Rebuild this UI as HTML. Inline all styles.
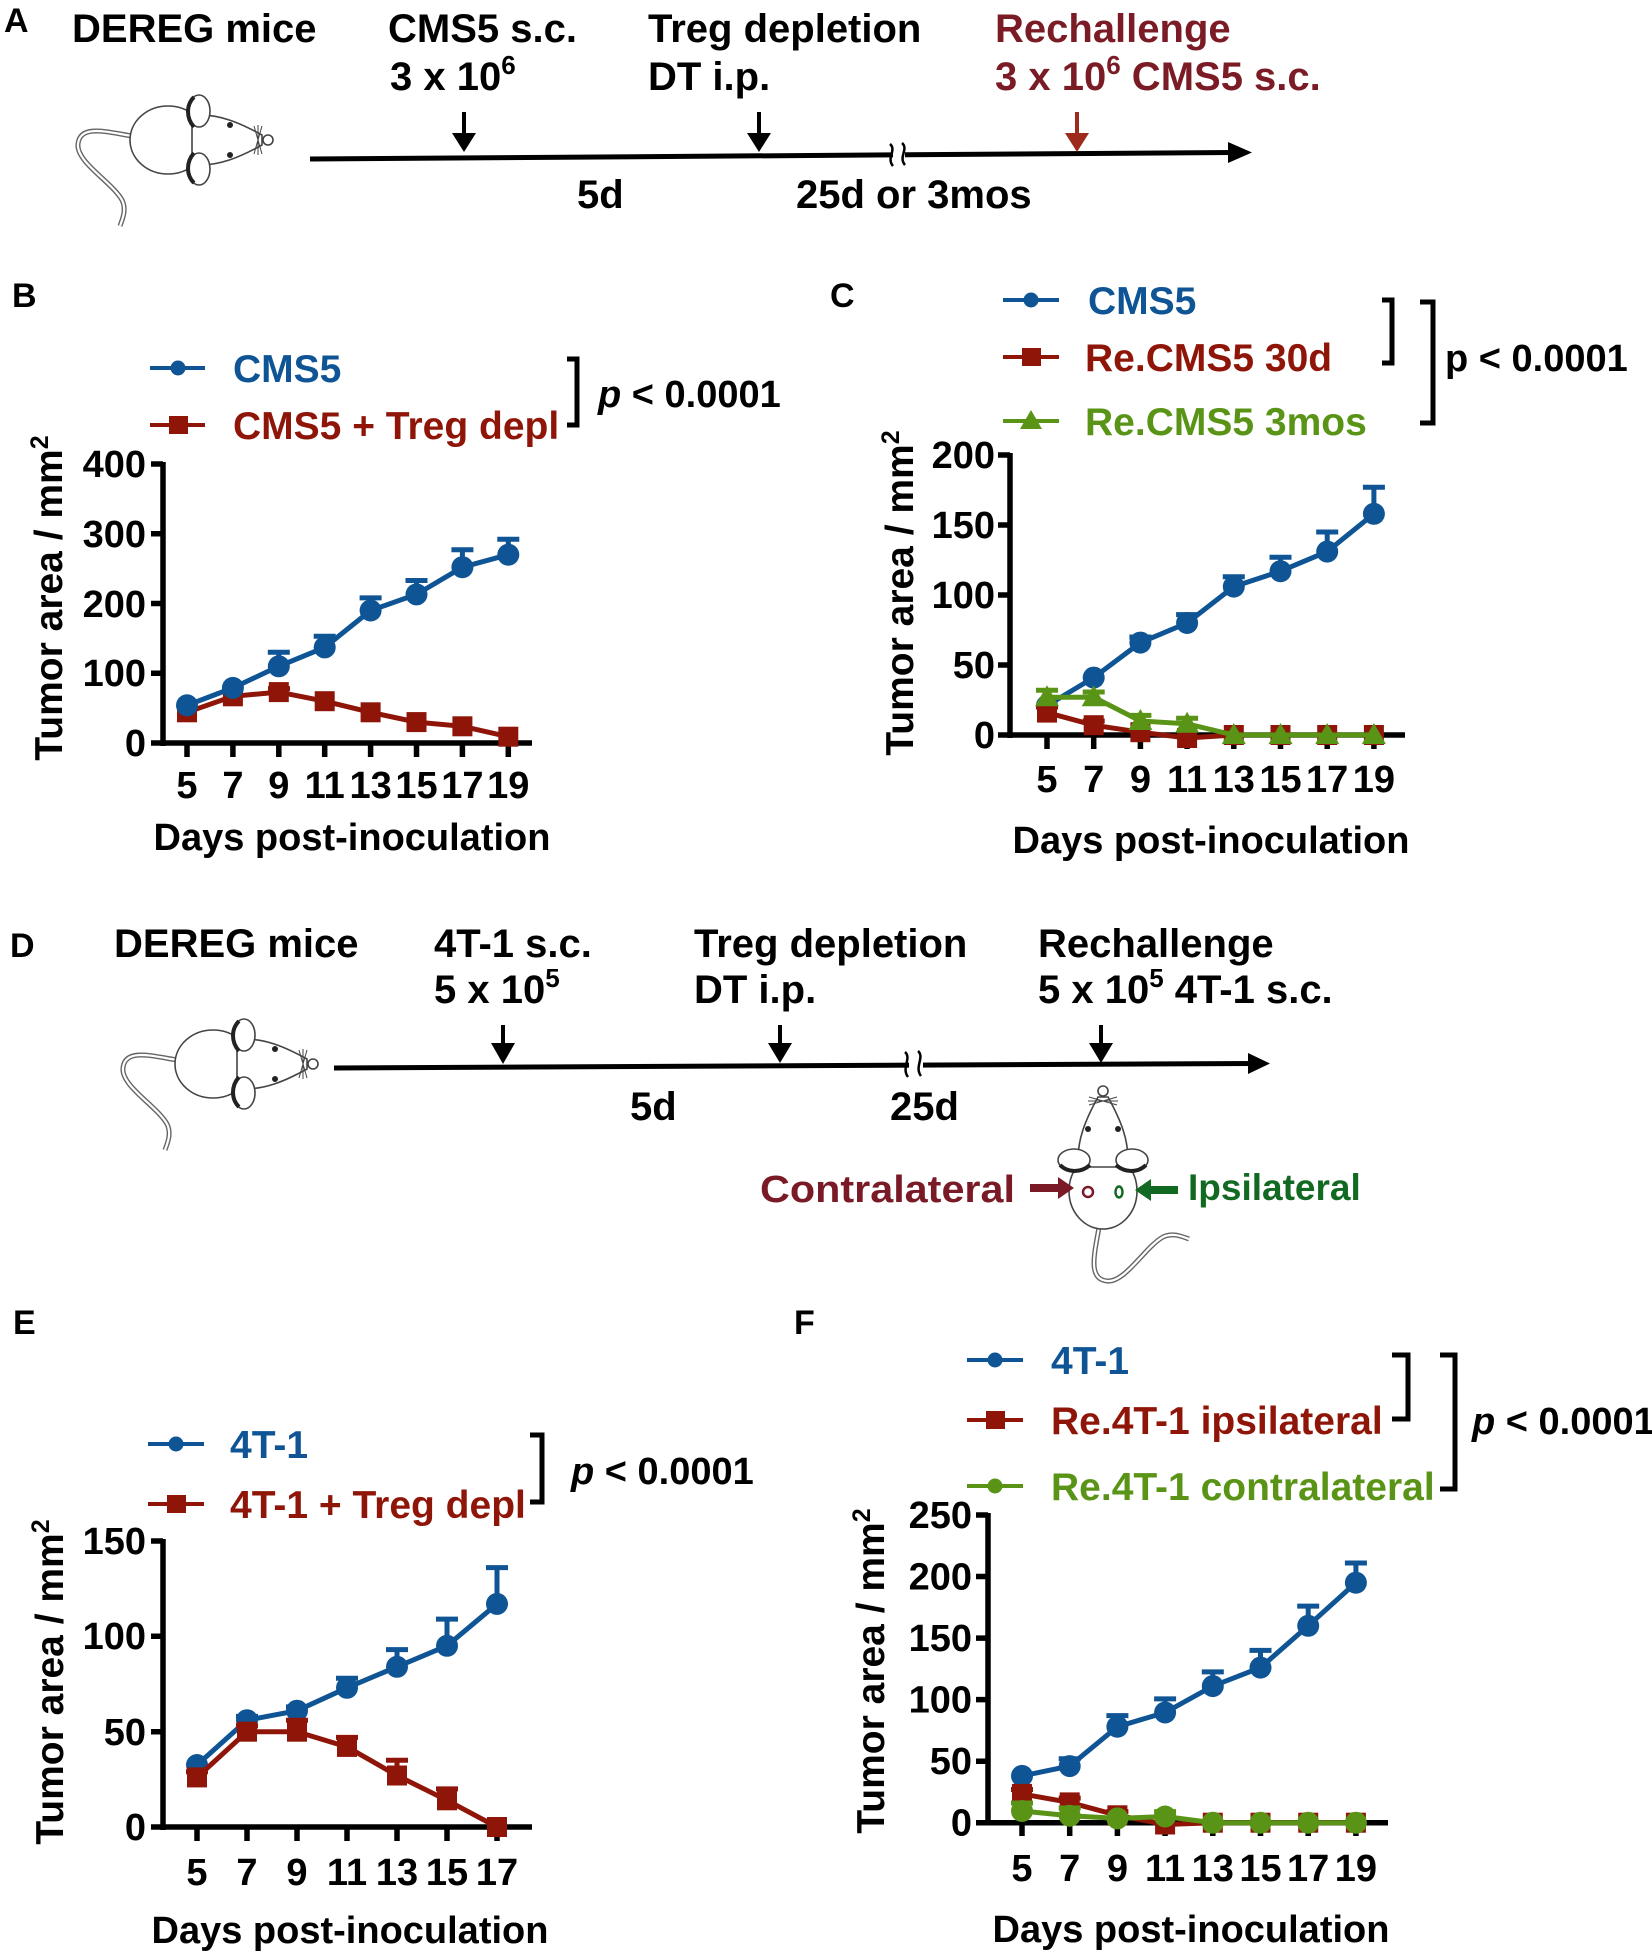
<!DOCTYPE html>
<html>
<head>
<meta charset="utf-8">
<style>
  html, body { margin:0; padding:0; background:#fff; }
  svg { display:block; }
  text { font-family: "Liberation Sans", Arial, sans-serif; font-weight: bold; }
</style>
</head>
<body>
<svg width="1652" height="1953" viewBox="0 0 1652 1953" xmlns="http://www.w3.org/2000/svg">
<rect x="0" y="0" width="1652" height="1953" fill="#fff"/>
<defs>
  <g id="mouse" fill="none" stroke="#444" stroke-width="1.6">
    <path d="M-140,-4 C-165,-8 -192,-16 -194,4 C-196,22 -160,42 -150,60 C-145,70 -150,80 -152,86" stroke="#666" stroke-width="5"/>
    <path d="M-140,-4 C-165,-8 -192,-16 -194,4 C-196,22 -160,42 -150,60 C-145,70 -150,80 -152,86" stroke="#fff" stroke-width="2.2"/>
    <ellipse cx="-104" cy="0" rx="38" ry="34" fill="#fff"/>
    <path d="M-80,-24 C-55,-28 -30,-16 -10,-5 L-10,5 C-30,16 -55,28 -80,24 Z" fill="#fff"/>
    <ellipse cx="-73" cy="-29" rx="11" ry="16" fill="#fff"/>
    <ellipse cx="-73" cy="29" rx="11" ry="16" fill="#fff"/>
    <path d="M-78,-43 C-86,-35 -86,-22 -78,-13" stroke="#222" stroke-width="4"/>
    <path d="M-78,13 C-86,22 -86,35 -78,43" stroke="#222" stroke-width="4"/>
    <circle cx="-42" cy="-15" r="3" fill="#222" stroke="none"/>
    <circle cx="-42" cy="15" r="3" fill="#222" stroke="none"/>
    <circle cx="-4" cy="0" r="5" fill="#fff"/>
    <path d="M-18,-14 L-10,14 M-10,-14 L-18,14 M-14,-15 L-14,15" stroke-width="1"/>
  </g>
</defs>

<!-- ================= PANEL A ================= -->
<text x="4" y="32" font-size="34">A</text>
<text x="72" y="42" font-size="40">DEREG mice</text>
<text x="388" y="42" font-size="40">CMS5 s.c.</text>
<text x="390" y="90" font-size="40">3 x 10<tspan font-size="26" dy="-16">6</tspan></text>
<text x="648" y="42" font-size="40">Treg depletion</text>
<text x="648" y="90" font-size="40">DT i.p.</text>
<text x="995" y="42" font-size="40" fill="#7b1b25">Rechallenge</text>
<text x="995" y="90" font-size="40" fill="#7b1b25">3 x 10<tspan font-size="26" dy="-16">6</tspan><tspan dy="16"> CMS5 s.c.</tspan></text>
<use href="#mouse" transform="translate(272,140)"/>
<line x1="310" y1="159" x2="1232" y2="152.5" stroke="#000" stroke-width="5"/>
<polygon points="1228,142 1252,152.5 1228,163" fill="#000"/>
<rect x="893" y="145" width="12" height="16" fill="#fff"/>
<path d="M890,144 C897,150 886,158 893,166 M902,143 C909,149 898,157 905,165" stroke="#000" stroke-width="2.5" fill="none"/>
<rect x="462" y="112" width="4" height="24" fill="#000"/>
<polygon points="452,133 476,133 464,152" fill="#000"/>
<rect x="757" y="112" width="4" height="24" fill="#000"/>
<polygon points="747,133 771,133 759,152" fill="#000"/>
<rect x="1075" y="112" width="4" height="24" fill="#9c2b1c"/>
<polygon points="1065,133 1089,133 1077,152" fill="#9c2b1c"/>
<text x="577" y="208" font-size="40">5d</text>
<text x="796" y="208" font-size="40">25d or 3mos</text>

<!-- ================= PANEL B ================= -->
<text x="12" y="307" font-size="34">B</text>
<line x1="150" y1="368" x2="205" y2="368" stroke="#0f5494" stroke-width="4"/>
<circle cx="178" cy="368" r="7.5" fill="#0f5494"/>
<text x="233" y="382" font-size="39" fill="#0f5494">CMS5</text>
<line x1="150" y1="425" x2="205" y2="425" stroke="#8e1508" stroke-width="4"/>
<rect x="169" y="416" width="19" height="18" fill="#8e1508"/>
<text x="233" y="439" font-size="39" fill="#8e1508">CMS5 + Treg depl</text>
<path d="M567,359 H577 V425 H567" stroke="#000" stroke-width="5" fill="none"/>
<text x="598" y="407" font-size="38"><tspan font-style="italic">p</tspan> &lt; 0.0001</text>
<g stroke="#000" stroke-width="5.5" fill="none">
  <path d="M163,462 V746 M160.3,743 H532"/>
  <path d="M151,464 H163 M151,533.7 H163 M151,603.5 H163 M151,673.3 H163 M151,743 H163"/>
  <path d="M187,743 V757 M232.9,743 V757 M278.8,743 V757 M324.7,743 V757 M370.6,743 V757 M416.5,743 V757 M462.4,743 V757 M508.3,743 V757"/>
</g>
<g font-size="38" text-anchor="end">
  <text x="146" y="477">400</text>
  <text x="146" y="547">300</text>
  <text x="146" y="617">200</text>
  <text x="146" y="686">100</text>
  <text x="146" y="756">0</text>
</g>
<g font-size="38" text-anchor="middle">
  <text x="187" y="798">5</text><text x="232.9" y="798">7</text><text x="278.8" y="798">9</text><text x="324.7" y="798">11</text>
  <text x="370.6" y="798">13</text><text x="416.5" y="798">15</text><text x="462.4" y="798">17</text><text x="508.3" y="798">19</text>
</g>
<text x="352" y="850" font-size="38" text-anchor="middle">Days post-inoculation</text>
<text transform="translate(62,598) rotate(-90)" font-size="39" text-anchor="middle">Tumor area / mm<tspan font-size="25" dy="-14">2</tspan></text>
<g stroke="#8e1508" stroke-width="5" fill="none">
  <polyline points="187,712.3 232.9,696.3 278.8,692.1 324.7,701.2 370.6,712.3 416.5,722.1 462.4,726.3 508.3,736.7"/>
  <path d="M278.8,692 V688.6 M268,688.6 H290"/>
</g>
<g fill="#8e1508">
  <rect x="177" y="702.3" width="20" height="20"/><rect x="222.9" y="686.3" width="20" height="20"/><rect x="268.8" y="682.1" width="20" height="20"/><rect x="314.7" y="691.2" width="20" height="20"/>
  <rect x="360.6" y="702.3" width="20" height="20"/><rect x="406.5" y="712.1" width="20" height="20"/><rect x="452.4" y="716.3" width="20" height="20"/><rect x="498.3" y="726.7" width="20" height="20"/>
</g>
<g stroke="#0f5494" stroke-width="5" fill="none">
  <polyline points="187,705.3 232.9,687.9 278.8,666.3 324.7,647.4 370.6,610.5 416.5,594.4 462.4,567.2 508.3,554.7"/>
  <path d="M278.8,666 V652.3 M267.8,652.3 H289.8 M324.7,647 V636.3 M313.7,636.3 H335.7 M370.6,610 V597.9 M359.6,597.9 H381.6 M416.5,594 V580.5 M405.5,580.5 H427.5 M462.4,567 V549.8 M451.4,549.8 H473.4 M508.3,554 V539.3 M497.3,539.3 H519.3"/>
</g>
<g fill="#0f5494">
  <circle cx="187" cy="705.3" r="11"/><circle cx="232.9" cy="687.9" r="11"/><circle cx="278.8" cy="666.3" r="11"/><circle cx="324.7" cy="647.4" r="11"/>
  <circle cx="370.6" cy="610.5" r="11"/><circle cx="416.5" cy="594.4" r="11"/><circle cx="462.4" cy="567.2" r="11"/><circle cx="508.3" cy="554.7" r="11"/>
</g>

<!-- ================= PANEL C ================= -->
<text x="830" y="307" font-size="34">C</text>
<line x1="1003" y1="300" x2="1059" y2="300" stroke="#0f5494" stroke-width="4"/>
<circle cx="1031" cy="300" r="7.5" fill="#0f5494"/>
<text x="1088" y="314" font-size="39" fill="#0f5494">CMS5</text>
<line x1="1003" y1="357" x2="1059" y2="357" stroke="#8e1508" stroke-width="4"/>
<rect x="1022" y="348" width="19" height="18" fill="#8e1508"/>
<text x="1085" y="371" font-size="39" fill="#8e1508">Re.CMS5 30d</text>
<line x1="1003" y1="421" x2="1059" y2="421" stroke="#5a9417" stroke-width="4"/>
<polygon points="1031,410 1042,429 1020,429" fill="#5a9417"/>
<text x="1085" y="435" font-size="39" fill="#5a9417">Re.CMS5 3mos</text>
<path d="M1382,300 H1392 V363 H1382" stroke="#000" stroke-width="5" fill="none"/>
<path d="M1420,302 H1433 V423 H1420" stroke="#000" stroke-width="5" fill="none"/>
<text x="1445" y="371" font-size="38">p &lt; 0.0001</text>
<g stroke="#000" stroke-width="5.5" fill="none">
  <path d="M1010,453 V738 M1007.3,735 H1405"/>
  <path d="M998,455 H1010 M998,525 H1010 M998,595 H1010 M998,665 H1010 M998,735 H1010"/>
  <path d="M1047,735 V749 M1093.7,735 V749 M1140.4,735 V749 M1187.1,735 V749 M1233.8,735 V749 M1280.5,735 V749 M1327.2,735 V749 M1373.9,735 V749"/>
</g>
<g font-size="38" text-anchor="end">
  <text x="995" y="468">200</text>
  <text x="995" y="538">150</text>
  <text x="995" y="608">100</text>
  <text x="995" y="678">50</text>
  <text x="995" y="748">0</text>
</g>
<g font-size="38" text-anchor="middle">
  <text x="1047" y="792">5</text><text x="1093.7" y="792">7</text><text x="1140.4" y="792">9</text><text x="1187.1" y="792">11</text>
  <text x="1233.8" y="792">13</text><text x="1280.5" y="792">15</text><text x="1327.2" y="792">17</text><text x="1373.9" y="792">19</text>
</g>
<text x="1211" y="853" font-size="38" text-anchor="middle">Days post-inoculation</text>
<text transform="translate(913,593) rotate(-90)" font-size="39" text-anchor="middle">Tumor area / mm<tspan font-size="25" dy="-14">2</tspan></text>
<g stroke="#0f5494" stroke-width="5" fill="none">
  <polyline points="1047,705.6 1093.7,677.6 1140.4,642.6 1187.1,623 1233.8,586.6 1280.5,571.2 1327.2,551.6 1373.9,513.8"/>
  <path d="M1140.4,642 V637 M1129.4,637 H1151.4 M1187.1,623 V614.6 M1176.1,614.6 H1198.1 M1233.8,586 V576.8 M1222.8,576.8 H1244.8 M1280.5,571 V557.2 M1269.5,557.2 H1291.5 M1327.2,551 V532 M1316.2,532 H1338.2 M1373.9,513 V487.2 M1362.9,487.2 H1384.9"/>
</g>
<g fill="#0f5494">
  <circle cx="1047" cy="705.6" r="11"/><circle cx="1093.7" cy="677.6" r="11"/><circle cx="1140.4" cy="642.6" r="11"/><circle cx="1187.1" cy="623" r="11"/>
  <circle cx="1233.8" cy="586.6" r="11"/><circle cx="1280.5" cy="571.2" r="11"/><circle cx="1327.2" cy="551.6" r="11"/><circle cx="1373.9" cy="513.8" r="11"/>
</g>
<g stroke="#8e1508" stroke-width="5" fill="none">
  <polyline points="1047,712.6 1093.7,725.2 1140.4,732.2 1187.1,738 1233.8,735 1280.5,735 1327.2,735 1373.9,735"/>
  <path d="M1047,712 V707 M1036,707 H1058 M1093.7,725 V721 M1082.7,721 H1104.7"/>
</g>
<g fill="#8e1508">
  <rect x="1037" y="702.6" width="20" height="20"/><rect x="1083.7" y="715.2" width="20" height="20"/><rect x="1130.4" y="722.2" width="20" height="20"/><rect x="1177.1" y="728" width="20" height="20"/>
  <rect x="1223.8" y="725" width="20" height="20"/><rect x="1270.5" y="725" width="20" height="20"/><rect x="1317.2" y="725" width="20" height="20"/><rect x="1363.9" y="725" width="20" height="20"/>
</g>
<g stroke="#5a9417" stroke-width="5" fill="none">
  <polyline points="1047,697.2 1093.7,697.2 1140.4,721 1187.1,723.8 1233.8,735 1280.5,735 1327.2,735 1373.9,735"/>
  <path d="M1047,697 V690.2 M1036,690.2 H1058 M1093.7,697 V692 M1082.7,692 H1104.7 M1140.4,721 V715.4 M1129.4,715.4 H1151.4 M1187.1,723 V718.2 M1176.1,718.2 H1198.1"/>
</g>
<g fill="#5a9417">
  <polygon points="1047,685.2 1059,706.2 1035,706.2"/><polygon points="1093.7,685.2 1105.7,706.2 1081.7,706.2"/>
  <polygon points="1140.4,709 1152.4,730 1128.4,730"/><polygon points="1187.1,711.8 1199.1,732.8 1175.1,732.8"/>
  <polygon points="1233.8,723 1245.8,744 1221.8,744"/><polygon points="1280.5,723 1292.5,744 1268.5,744"/>
  <polygon points="1327.2,723 1339.2,744 1315.2,744"/><polygon points="1373.9,723 1385.9,744 1361.9,744"/>
</g>

<!-- ================= PANEL D ================= -->
<text x="10" y="957" font-size="34">D</text>
<text x="114" y="957" font-size="40">DEREG mice</text>
<text x="434" y="957" font-size="40">4T-1 s.c.</text>
<text x="434" y="1003" font-size="40">5 x 10<tspan font-size="26" dy="-16">5</tspan></text>
<text x="694" y="957" font-size="40">Treg depletion</text>
<text x="694" y="1003" font-size="40">DT i.p.</text>
<text x="1038" y="957" font-size="40">Rechallenge</text>
<text x="1038" y="1003" font-size="40">5 x 10<tspan font-size="26" dy="-16">5</tspan><tspan dy="16"> 4T-1 s.c.</tspan></text>
<use href="#mouse" transform="translate(317,1064)"/>
<line x1="334" y1="1068" x2="1252" y2="1063.5" stroke="#000" stroke-width="5"/>
<polygon points="1248,1053 1270,1063.5 1248,1074" fill="#000"/>
<rect x="909" y="1056" width="14" height="16" fill="#fff"/>
<path d="M905,1052 C912,1058 901,1068 908,1077 M918,1051 C925,1057 914,1067 921,1076" stroke="#000" stroke-width="2.5" fill="none"/>
<rect x="501" y="1025" width="4" height="21" fill="#000"/>
<polygon points="491,1043 515,1043 503,1064" fill="#000"/>
<rect x="778" y="1025" width="4" height="21" fill="#000"/>
<polygon points="768,1043 792,1043 780,1063" fill="#000"/>
<rect x="1099" y="1025" width="4" height="21" fill="#000"/>
<polygon points="1089,1043 1113,1043 1101,1063" fill="#000"/>
<text x="630" y="1120" font-size="40">5d</text>
<text x="890" y="1120" font-size="40">25d</text>
<use href="#mouse" transform="translate(1103,1087) rotate(-90)"/>
<text x="760" y="1202" font-size="38" fill="#7a1a26" textLength="255" lengthAdjust="spacingAndGlyphs">Contralateral</text>
<rect x="1030" y="1184" width="32" height="8" fill="#7a1a26"/>
<polygon points="1058,1177 1074,1188 1058,1199" fill="#7a1a26"/>
<circle cx="1088" cy="1192" r="5" fill="none" stroke="#7a1a26" stroke-width="2.5"/>
<ellipse cx="1119" cy="1192" rx="3.5" ry="5.5" fill="none" stroke="#126a22" stroke-width="2.5"/>
<polygon points="1135,1190 1151,1179 1151,1201" fill="#126a22"/>
<rect x="1148" y="1186" width="30" height="8" fill="#126a22"/>
<text x="1188" y="1200" font-size="37" fill="#126a22">Ipsilateral</text>

<!-- ================= PANEL E ================= -->
<text x="13" y="1334" font-size="34">E</text>
<line x1="148" y1="1444" x2="204" y2="1444" stroke="#0f5494" stroke-width="4"/>
<circle cx="176" cy="1444" r="7.5" fill="#0f5494"/>
<text x="230" y="1458" font-size="39" fill="#0f5494">4T-1</text>
<line x1="148" y1="1504" x2="204" y2="1504" stroke="#8e1508" stroke-width="4"/>
<rect x="167" y="1495" width="19" height="18" fill="#8e1508"/>
<text x="230" y="1518" font-size="39" fill="#8e1508">4T-1 + Treg depl</text>
<path d="M530,1435 H542 V1502 H530" stroke="#000" stroke-width="5" fill="none"/>
<text x="571" y="1484" font-size="38"><tspan font-style="italic">p</tspan> &lt; 0.0001</text>
<g stroke="#000" stroke-width="5.5" fill="none">
  <path d="M163,1539 V1830 M160.3,1827 H532"/>
  <path d="M151,1541 H163 M151,1636.3 H163 M151,1731.7 H163 M151,1827 H163"/>
  <path d="M197,1827 V1841 M247,1827 V1841 M297,1827 V1841 M347,1827 V1841 M397,1827 V1841 M447,1827 V1841 M497,1827 V1841"/>
</g>
<g font-size="38" text-anchor="end">
  <text x="146" y="1554">150</text>
  <text x="146" y="1649">100</text>
  <text x="146" y="1745">50</text>
  <text x="146" y="1840">0</text>
</g>
<g font-size="38" text-anchor="middle">
  <text x="197" y="1885">5</text><text x="247" y="1885">7</text><text x="297" y="1885">9</text><text x="347" y="1885">11</text>
  <text x="397" y="1885">13</text><text x="447" y="1885">15</text><text x="497" y="1885">17</text>
</g>
<text x="350" y="1943" font-size="38" text-anchor="middle">Days post-inoculation</text>
<text transform="translate(63,1682) rotate(-90)" font-size="39" text-anchor="middle">Tumor area / mm<tspan font-size="25" dy="-14">2</tspan></text>
<g stroke="#0f5494" stroke-width="5" fill="none">
  <polyline points="197,1765 247,1720.2 297,1710.7 347,1687.8 397,1666.8 447,1645.8 497,1603.9"/>
  <path d="M247,1720 V1716.4 M236,1716.4 H258 M297,1710 V1706.9 M286,1706.9 H308 M347,1687 V1678.3 M336,1678.3 H358 M397,1666 V1649.6 M386,1649.6 H408 M447,1645 V1619.1 M436,1619.1 H458 M497,1603 V1567.6 M486,1567.6 H508"/>
</g>
<g fill="#0f5494">
  <circle cx="197" cy="1765" r="11"/><circle cx="247" cy="1720.2" r="11"/><circle cx="297" cy="1710.7" r="11"/><circle cx="347" cy="1687.8" r="11"/>
  <circle cx="397" cy="1666.8" r="11"/><circle cx="447" cy="1645.8" r="11"/><circle cx="497" cy="1603.9" r="11"/>
</g>
<g stroke="#8e1508" stroke-width="5" fill="none">
  <polyline points="197,1777.4 247,1731.7 297,1731.7 347,1746.9 397,1775.5 447,1800.3 497,1827"/>
  <path d="M197,1777 V1771.7 M186,1771.7 H208 M247,1731 V1725.9 M236,1725.9 H258 M297,1731 V1720.2 M286,1720.2 H308 M347,1746 V1737.4 M336,1737.4 H358 M397,1775 V1760.3 M386,1760.3 H408 M447,1800 V1788.9 M436,1788.9 H458"/>
</g>
<g fill="#8e1508">
  <rect x="187" y="1767.4" width="20" height="20"/><rect x="237" y="1721.7" width="20" height="20"/><rect x="287" y="1721.7" width="20" height="20"/><rect x="337" y="1736.9" width="20" height="20"/>
  <rect x="387" y="1765.5" width="20" height="20"/><rect x="437" y="1790.3" width="20" height="20"/><rect x="487" y="1817" width="20" height="20"/>
</g>

<!-- ================= PANEL F ================= -->
<text x="794" y="1334" font-size="34">F</text>
<line x1="967" y1="1360" x2="1023" y2="1360" stroke="#0f5494" stroke-width="4"/>
<circle cx="995" cy="1360" r="7.5" fill="#0f5494"/>
<text x="1051" y="1374" font-size="39" fill="#0f5494">4T-1</text>
<line x1="967" y1="1420" x2="1023" y2="1420" stroke="#8e1508" stroke-width="4"/>
<rect x="986" y="1411" width="19" height="18" fill="#8e1508"/>
<text x="1051" y="1434" font-size="39" fill="#8e1508">Re.4T-1 ipsilateral</text>
<line x1="967" y1="1486" x2="1023" y2="1486" stroke="#5a9417" stroke-width="4"/>
<circle cx="995" cy="1486" r="7.5" fill="#5a9417"/>
<text x="1051" y="1500" font-size="39" fill="#5a9417">Re.4T-1 contralateral</text>
<path d="M1392,1355 H1408 V1419 H1392" stroke="#000" stroke-width="5" fill="none"/>
<path d="M1440,1355 H1455 V1489 H1440" stroke="#000" stroke-width="5" fill="none"/>
<text x="1472" y="1434" font-size="38"><tspan font-style="italic">p</tspan> &lt; 0.0001</text>
<g stroke="#000" stroke-width="5.5" fill="none">
  <path d="M988,1513 V1825.5 M985.3,1822.7 H1388"/>
  <path d="M976,1515 H988 M976,1576.5 H988 M976,1638.1 H988 M976,1699.6 H988 M976,1761.2 H988 M976,1822.7 H988"/>
  <path d="M1022,1822.7 V1836 M1069.7,1822.7 V1836 M1117.4,1822.7 V1836 M1165.1,1822.7 V1836 M1212.8,1822.7 V1836 M1260.5,1822.7 V1836 M1308.2,1822.7 V1836 M1355.9,1822.7 V1836"/>
</g>
<g font-size="38" text-anchor="end">
  <text x="972" y="1528">250</text>
  <text x="972" y="1589.5">200</text>
  <text x="972" y="1651">150</text>
  <text x="972" y="1712.6">100</text>
  <text x="972" y="1774">50</text>
  <text x="972" y="1835.7">0</text>
</g>
<g font-size="38" text-anchor="middle">
  <text x="1022" y="1881">5</text><text x="1069.7" y="1881">7</text><text x="1117.4" y="1881">9</text><text x="1165.1" y="1881">11</text>
  <text x="1212.8" y="1881">13</text><text x="1260.5" y="1881">15</text><text x="1308.2" y="1881">17</text><text x="1355.9" y="1881">19</text>
</g>
<text x="1191" y="1942" font-size="38" text-anchor="middle">Days post-inoculation</text>
<text transform="translate(884,1671) rotate(-90)" font-size="39" text-anchor="middle">Tumor area / mm<tspan font-size="25" dy="-14">2</tspan></text>
<g stroke="#0f5494" stroke-width="5" fill="none">
  <polyline points="1022,1775.9 1069.7,1766.1 1117.4,1726.7 1165.1,1712.5 1212.8,1686.1 1260.5,1667.6 1308.2,1625.8 1355.9,1582.7"/>
  <path d="M1069.7,1766 V1758.7 M1058.7,1758.7 H1080.7 M1117.4,1726 V1715.6 M1106.4,1715.6 H1128.4 M1165.1,1712 V1698.9 M1154.1,1698.9 H1176.1 M1212.8,1686 V1671.9 M1201.8,1671.9 H1223.8 M1260.5,1667 V1650.4 M1249.5,1650.4 H1271.5 M1308.2,1625 V1606.1 M1297.2,1606.1 H1319.2 M1355.9,1582 V1563 M1344.9,1563 H1366.9"/>
</g>
<g fill="#0f5494">
  <circle cx="1022" cy="1775.9" r="11"/><circle cx="1069.7" cy="1766.1" r="11"/><circle cx="1117.4" cy="1726.7" r="11"/><circle cx="1165.1" cy="1712.5" r="11"/>
  <circle cx="1212.8" cy="1686.1" r="11"/><circle cx="1260.5" cy="1667.6" r="11"/><circle cx="1308.2" cy="1625.8" r="11"/><circle cx="1355.9" cy="1582.7" r="11"/>
</g>
<g stroke="#8e1508" stroke-width="5" fill="none">
  <polyline points="1022,1793.9 1069.7,1802.4 1117.4,1815.3 1165.1,1824.5 1212.8,1822.7 1260.5,1822.7 1308.2,1822.7 1355.9,1822.7"/>
  <path d="M1022,1793 V1789.5 M1011,1789.5 H1033 M1069.7,1802 V1798.1 M1058.7,1798.1 H1080.7 M1117.4,1815 V1811.6 M1106.4,1811.6 H1128.4"/>
</g>
<g fill="#8e1508">
  <rect x="1012" y="1783.9" width="20" height="20"/><rect x="1059.7" y="1792.4" width="20" height="20"/><rect x="1107.4" y="1805.3" width="20" height="20"/><rect x="1155.1" y="1814.5" width="20" height="20"/>
  <rect x="1202.8" y="1812.7" width="20" height="20"/><rect x="1250.5" y="1812.7" width="20" height="20"/><rect x="1298.2" y="1812.7" width="20" height="20"/><rect x="1345.9" y="1812.7" width="20" height="20"/>
</g>
<g stroke="#5a9417" stroke-width="5" fill="none">
  <polyline points="1022,1811 1069.7,1815.7 1117.4,1818.4 1165.1,1816.5 1212.8,1822.7 1260.5,1822.7 1308.2,1822.7 1355.9,1822.7"/>
  <path d="M1022,1811 V1803 M1011,1803 H1033 M1069.7,1815 V1808 M1058.7,1808 H1080.7 M1165.1,1816 V1811.6 M1154.1,1811.6 H1176.1"/>
</g>
<g fill="#5a9417">
  <circle cx="1022" cy="1811" r="11"/><circle cx="1069.7" cy="1815.7" r="11"/><circle cx="1117.4" cy="1818.4" r="11"/><circle cx="1165.1" cy="1816.5" r="11"/>
  <circle cx="1212.8" cy="1822.7" r="11"/><circle cx="1260.5" cy="1822.7" r="11"/><circle cx="1308.2" cy="1822.7" r="11"/><circle cx="1355.9" cy="1822.7" r="11"/>
</g>
</svg>
</body>
</html>
